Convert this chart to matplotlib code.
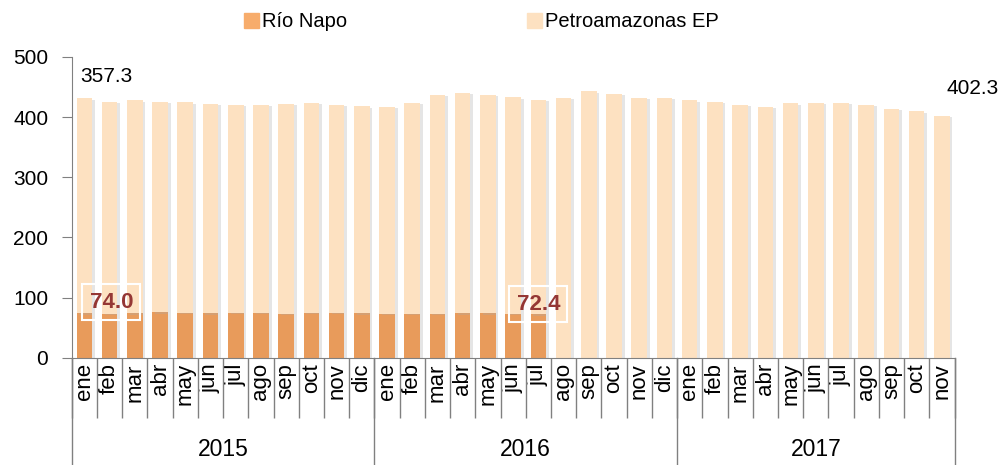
import matplotlib
matplotlib.use("Agg")
import matplotlib.pyplot as plt
import matplotlib.patheffects as pe
from matplotlib.patches import Patch
from matplotlib.transforms import blended_transform_factory

plt.rcParams['font.family'] = ['Liberation Sans', 'DejaVu Sans']

# months 2015-ene .. 2017-nov
months = ["ene", "feb", "mar", "abr", "may", "jun", "jul", "ago", "sep", "oct", "nov", "dic"]
years = ["2015", "2016", "2017"]
month_labels = months * 2 + months[:11]

rio_napo = [74.0, 73.0, 74.0, 75.5, 75.0, 73.5, 75.0, 74.5, 72.5, 74.5, 75.0, 74.0,
            72.5, 72.5, 73.0, 74.0, 74.0, 72.5, 72.4, 0, 0, 0, 0, 0,
            0, 0, 0, 0, 0, 0, 0, 0, 0, 0, 0]
petroamazonas = [357.3, 352.0, 353.8, 350.1, 349.5, 348.7, 345.0, 345.5, 349.2, 348.8, 345.6, 343.8,
                 344.8, 350.8, 363.6, 365.9, 363.1, 360.2, 355.9, 431.6, 442.7, 438.8, 431.6, 432.2,
                 427.8, 425.6, 420.0, 417.3, 422.8, 423.9, 423.3, 420.0, 414.0, 409.5, 402.3]

c_napo = "#E89B5B"
c_petro = "#FDE1C1"
grey = "#808080"

fig = plt.figure(figsize=(10.02, 4.65), dpi=100)
ax = fig.add_axes([0.0716, 0.2308, 0.881, 0.6467])

x = list(range(len(month_labels)))
shadow = [pe.SimplePatchShadow(offset=(2, -1), shadow_rgbFace="#aaaaaa", alpha=0.3), pe.Normal()]
b1 = ax.bar(x, rio_napo, width=0.62, color=c_napo, zorder=2)
b2 = ax.bar(x, petroamazonas, width=0.62, bottom=rio_napo, color=c_petro, zorder=2)
for p in list(b1) + list(b2):
    p.set_path_effects(shadow)

ax.set_xlim(-0.5, len(x) - 0.5)
ax.set_ylim(0, 500)
ax.set_yticks([0, 100, 200, 300, 400, 500])
ax.tick_params(axis='y', labelsize=15, length=7, color=grey, pad=10)

ax.set_xticks(x)
ax.set_xticklabels(month_labels, rotation=90, fontsize=16)
ax.tick_params(axis='x', which='major', length=0, pad=4)
ax.set_xticks([i - 0.5 for i in range(len(x) + 1)], minor=True)
ax.tick_params(axis='x', which='minor', length=43, color=grey, width=1)

for s in ["top", "right"]:
    ax.spines[s].set_visible(False)
for s in ["left", "bottom"]:
    ax.spines[s].set_color(grey)

# year separators and labels
tr = blended_transform_factory(ax.transData, ax.transAxes)
for xb in [-0.5, 11.5, 23.5, len(x) - 0.5]:
    ax.plot([xb, xb], [0, -0.37], transform=tr, color=grey, lw=1, clip_on=False)
ax.text(5.5, -0.307, years[0], transform=tr, ha='center', va='center', fontsize=16.5)
ax.text(17.5, -0.307, years[1], transform=tr, ha='center', va='center', fontsize=16.5)
ax.text(29.0, -0.307, years[2], transform=tr, ha='center', va='center', fontsize=16.5)

# value labels
tot0 = rio_napo[0] + petroamazonas[0]
ax.annotate(f"{petroamazonas[0]:.1f}", xy=(0, tot0), xytext=(22, 22), textcoords='offset pixels',
            ha='center', va='center', fontsize=15)
ax.annotate(f"{petroamazonas[-1]:.1f}", xy=(len(x) - 1, petroamazonas[-1]), xytext=(31, 27),
            textcoords='offset pixels', ha='center', va='center', fontsize=15)
box = dict(boxstyle='square,pad=0.33', fc='none', ec='white', lw=1.5)
ax.annotate(f"{rio_napo[0]:.1f}", xy=(0, rio_napo[0]), xytext=(27, 11), textcoords='offset pixels',
            ha='center', va='center', fontsize=16, fontweight='bold', color="#953735", bbox=box)
ax.annotate(f"{rio_napo[18]:.1f}", xy=(18, rio_napo[18]), xytext=(0, 10), textcoords='offset pixels',
            ha='center', va='center', fontsize=16, fontweight='bold', color="#953735", bbox=box)

handles = [Patch(color="#F7AC6B", label="Río Napo"), Patch(color=c_petro, label="Petroamazonas EP")]
fig.legend(handles=handles, loc='center', bbox_to_anchor=(0.4805, 0.953), ncol=2, frameon=False,
           fontsize=14.5, handlelength=0.75, handleheight=0.75, handletextpad=0.15, columnspacing=8.9)

fig.savefig("out.png", dpi=100)
